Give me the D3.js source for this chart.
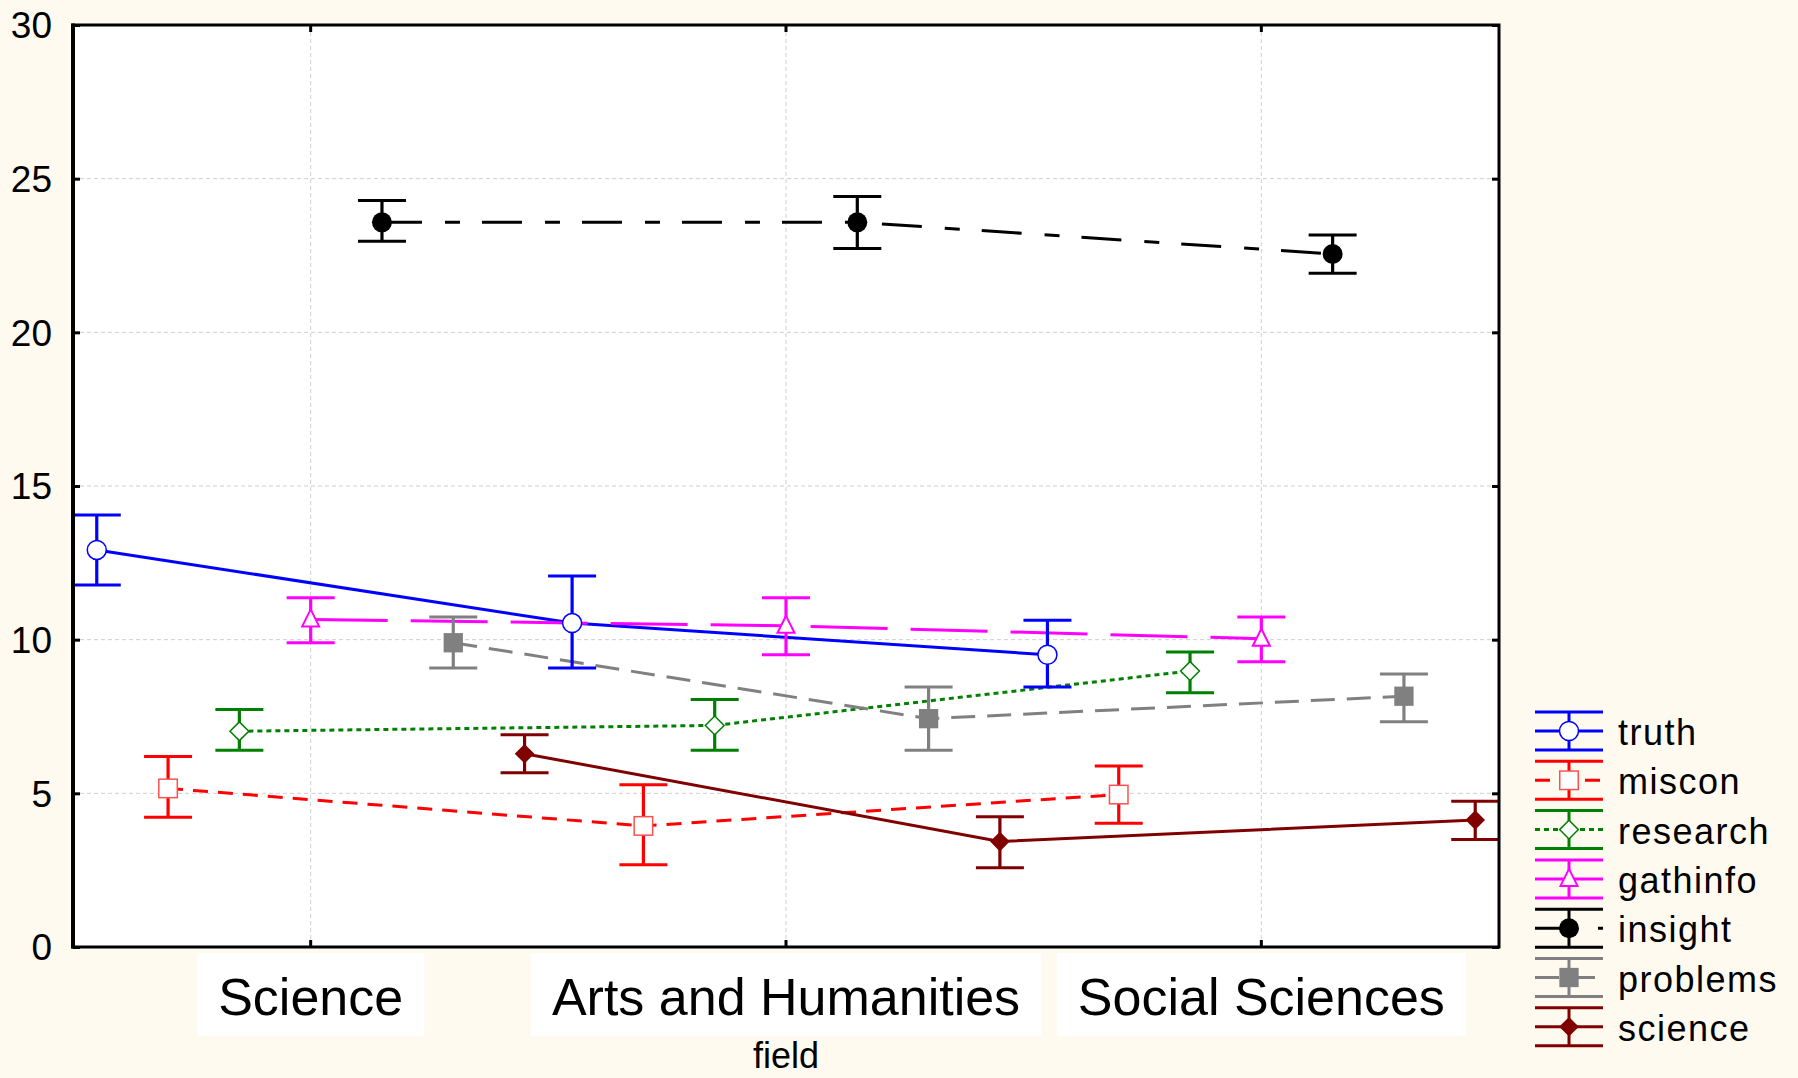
<!DOCTYPE html>
<html>
<head>
<meta charset="utf-8">
<script src="https://cdn.jsdelivr.net/npm/d3@7"></script>
<style>
  html, body { margin: 0; padding: 0; background: #FFFAF0; }
  svg { display: block; }
  text { font-family: "Liberation Sans", Arial, sans-serif; fill: #000; }
</style>
</head>
<body>
<svg id="chart" width="1798" height="1078"></svg>
<script>
// ---------------- data ----------------
const categories = ["Science", "Arts and Humanities", "Social Sciences"];
const seriesNames = ["truth", "miscon", "research", "gathinfo", "insight", "problems", "science"];
const yTicks = [0, 5, 10, 15, 20, 25, 30];
const xTitle = "field";

const truthMean    = [12.92, 10.54, 9.51];
const truthLow     = [11.78, 9.08, 8.46];
const truthHigh    = [14.06, 12.07, 10.63];

const misconMean   = [5.16, 3.94, 4.96];
const misconLow    = [4.22, 2.68, 4.03];
const misconHigh   = [6.20, 5.28, 5.89];

const researchMean = [7.02, 7.21, 8.98];
const researchLow  = [6.40, 6.40, 8.27];
const researchHigh = [7.73, 8.05, 9.60];

const gathinfoMean = [10.66, 10.45, 10.03];
const gathinfoLow  = [9.90, 9.51, 9.28];
const gathinfoHigh = [11.36, 11.36, 10.74];

const insightMean  = [23.58, 23.58, 22.55];
const insightLow   = [22.96, 22.73, 21.92];
const insightHigh  = [24.29, 24.42, 23.17];

const problemsMean = [9.90, 7.43, 8.16];
const problemsLow  = [9.08, 6.40, 7.33];
const problemsHigh = [10.74, 8.46, 8.88];

const scienceMean  = [6.29, 3.43, 4.13];
const scienceLow   = [5.67, 2.58, 3.50];
const scienceHigh  = [6.91, 4.24, 4.74];

// ---------------- styles ----------------
const seriesColors  = ["#0000FF", "#FF0000", "#008000", "#FF00FF", "#000000", "#808080", "#800000"];
const seriesDash    = [null, "15,10", "5,4", "77,23", "40,23,15,22", "24,12", null];
const seriesMarker  = ["circle", "square", "diamond", "triangle", "circle", "square", "diamond"];
const seriesFilled  = [false, false, false, false, true, true, true];

const means = [truthMean, misconMean, researchMean, gathinfoMean, insightMean, problemsMean, scienceMean];
const lows  = [truthLow, misconLow, researchLow, gathinfoLow, insightLow, problemsLow, scienceLow];
const highs = [truthHigh, misconHigh, researchHigh, gathinfoHigh, insightHigh, problemsHigh, scienceHigh];

// ---------------- layout ----------------
const W = 1798, H = 1078;
const P = { l: 73, r: 1499, t: 25, b: 947 };
const svg = d3.select("#chart");

svg.append("rect").attr("width", W).attr("height", H).attr("fill", "#FFFAF0");
svg.append("rect").attr("x", P.l).attr("y", P.t).attr("width", P.r - P.l).attr("height", P.b - P.t).attr("fill", "#FFFFFF");

const x = d3.scaleBand().domain(categories).range([P.l, P.r]).padding(0);
const y = d3.scaleLinear().domain([0, 30]).range([P.b, P.t]);
const step = x.bandwidth() * 0.15;
const cx = (cat, i) => x(cat) + x.bandwidth() / 2 + (i - 3) * step;

// grid
const grid = svg.append("g");
grid.selectAll("line.h").data(yTicks.filter(d => d > 0 && d < 30)).join("line")
  .attr("x1", P.l).attr("x2", P.r).attr("y1", d => y(d)).attr("y2", d => y(d))
  .attr("stroke", "#cfcfcf").attr("stroke-width", 1).attr("stroke-dasharray", "4,3");
grid.selectAll("line.v").data(categories).join("line")
  .attr("x1", d => x(d) + x.bandwidth() / 2).attr("x2", d => x(d) + x.bandwidth() / 2)
  .attr("y1", P.t).attr("y2", P.b)
  .attr("stroke", "#cfcfcf").attr("stroke-width", 1).attr("stroke-dasharray", "4,3");

// marker drawer
function drawMarker(g, type, filled, color, px, py) {
  const fill = filled ? color : "#FFFFFF";
  const sw = filled ? 0 : 1.5;
  if (type === "circle") {
    g.append("circle").attr("cx", px).attr("cy", py).attr("r", filled ? 10 : 9.5)
      .attr("fill", fill).attr("stroke", color).attr("stroke-width", sw);
  } else if (type === "square") {
    const s = filled ? 19.3 : 18.5;
    g.append("rect").attr("x", px - s / 2).attr("y", py - s / 2).attr("width", s).attr("height", s)
      .attr("fill", fill).attr("stroke", filled ? color : "#FF5050").attr("stroke-width", sw);
  } else if (type === "diamond") {
    const h = filled ? 9.8 : 9.4;
    g.append("path").attr("d", `M${px},${py - h}L${px + h},${py}L${px},${py + h}L${px - h},${py}Z`)
      .attr("fill", fill).attr("stroke", color).attr("stroke-width", sw);
  } else if (type === "triangle") {
    g.append("path").attr("d", `M${px},${py - 10}L${px + 8.5},${py + 7}L${px - 8.5},${py + 7}Z`)
      .attr("fill", fill).attr("stroke", color).attr("stroke-width", 2);
  }
}

function drawErrorBar(g, color, px, yl, yh, half) {
  g.append("line").attr("x1", px).attr("x2", px).attr("y1", yl).attr("y2", yh)
    .attr("stroke", color).attr("stroke-width", 3.2);
  g.append("line").attr("x1", px - half).attr("x2", px + half).attr("y1", yl).attr("y2", yl)
    .attr("stroke", color).attr("stroke-width", 3);
  g.append("line").attr("x1", px - half).attr("x2", px + half).attr("y1", yh).attr("y2", yh)
    .attr("stroke", color).attr("stroke-width", 3);
}

// series lines
const lineGen = d3.line().x(d => d[0]).y(d => d[1]);
const linesG = svg.append("g");
seriesNames.forEach((name, i) => {
  const pts = categories.map((c, k) => [cx(c, i), y(means[i][k])]);
  linesG.append("path").attr("d", lineGen(pts)).attr("fill", "none")
    .attr("stroke", seriesColors[i]).attr("stroke-width", 3)
    .attr("stroke-dasharray", seriesDash[i]);
});

// error bars + markers
const marksG = svg.append("g");
seriesNames.forEach((name, i) => {
  categories.forEach((c, k) => {
    drawErrorBar(marksG, seriesColors[i], cx(c, i), y(lows[i][k]), y(highs[i][k]), 24);
  });
});
seriesNames.forEach((name, i) => {
  categories.forEach((c, k) => {
    drawMarker(marksG, seriesMarker[i], seriesFilled[i], seriesColors[i], cx(c, i), y(means[i][k]));
  });
});

// axes
const yAxis = d3.axisLeft(y).tickValues(yTicks).tickSize(-7).tickPadding(21);
const yg = svg.append("g").attr("transform", `translate(${P.l},0)`).call(yAxis);
yg.select(".domain").remove();
yg.selectAll(".tick line").attr("stroke", "#000").attr("stroke-width", 3);
yg.selectAll(".tick text").attr("font-size", 37).attr("font-family", "Liberation Sans, Arial, sans-serif")
  .attr("dy", "0.35em").attr("fill", "#000");

const yAxisR = d3.axisRight(y).tickValues(yTicks).tickSize(-7).tickFormat("");
const ygr = svg.append("g").attr("transform", `translate(${P.r},0)`).call(yAxisR);
ygr.select(".domain").remove();
ygr.selectAll(".tick line").attr("stroke", "#000").attr("stroke-width", 3);

const xAxisT = d3.axisTop(x).tickSize(-7).tickFormat("");
const xgt = svg.append("g").attr("transform", `translate(0,${P.t})`).call(xAxisT);
xgt.select(".domain").remove();
xgt.selectAll(".tick line").attr("stroke", "#000").attr("stroke-width", 3);

const xAxis = d3.axisBottom(x).tickSize(-7).tickPadding(0);
const xg = svg.append("g").attr("transform", `translate(0,${P.b})`).call(xAxis);
xg.select(".domain").remove();
xg.selectAll(".tick line").attr("stroke", "#000").attr("stroke-width", 3);
xg.selectAll(".tick text").attr("font-size", 52).attr("font-family", "Liberation Sans, Arial, sans-serif")
  .attr("y", 68).attr("dy", null).attr("fill", "#000");
xg.selectAll(".tick").each(function () {
  const t = d3.select(this).select("text");
  const w = t.node().getComputedTextLength();
  d3.select(this).insert("rect", "text")
    .attr("x", -w / 2 - 21).attr("y", 6).attr("width", w + 42).attr("height", 83)
    .attr("fill", "#FFFFFF");
});

// frame
svg.append("rect").attr("x", P.l).attr("y", P.t).attr("width", P.r - P.l).attr("height", P.b - P.t)
  .attr("fill", "none").attr("stroke", "#000").attr("stroke-width", 3);
svg.append("line").attr("x1", P.l).attr("x2", P.l).attr("y1", P.t - 1.5).attr("y2", P.b + 1.5)
  .attr("stroke", "#000").attr("stroke-width", 4);

// x title
svg.append("text").attr("x", x(categories[1]) + x.bandwidth() / 2).attr("y", 1068)
  .attr("text-anchor", "middle").attr("font-size", 36).text(xTitle);

// legend
const leg = svg.append("g");
const lx0 = 1535, lx1 = 1603, lxc = 1569, ly0 = 731, lstep = 49.3;
seriesNames.forEach((name, i) => {
  const cy = ly0 + i * lstep;
  const col = seriesColors[i];
  leg.append("line").attr("x1", lx0).attr("x2", lx1).attr("y1", cy - 19).attr("y2", cy - 19)
    .attr("stroke", col).attr("stroke-width", 3);
  leg.append("line").attr("x1", lx0).attr("x2", lx1).attr("y1", cy + 19).attr("y2", cy + 19)
    .attr("stroke", col).attr("stroke-width", 3);
  leg.append("line").attr("x1", lxc).attr("x2", lxc).attr("y1", cy - 19).attr("y2", cy + 19)
    .attr("stroke", col).attr("stroke-width", 3);
  leg.append("line").attr("x1", lx0).attr("x2", lx1).attr("y1", cy).attr("y2", cy)
    .attr("stroke", col).attr("stroke-width", 3).attr("stroke-dasharray", seriesDash[i]);
  drawMarker(leg, seriesMarker[i], seriesFilled[i], col, lxc, cy);
  leg.append("text").attr("x", 1618).attr("y", cy + 14).attr("font-size", 36)
    .attr("letter-spacing", "1.5px").text(name);
});
</script>
</body>
</html>
